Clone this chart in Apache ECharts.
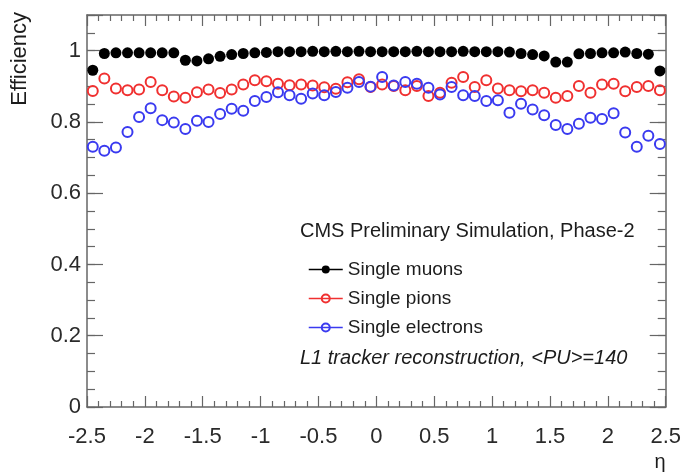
<!DOCTYPE html>
<html><head><meta charset="utf-8">
<script src="https://cdn.jsdelivr.net/npm/echarts@6/dist/echarts.min.js"></script>
<style>html,body{margin:0;padding:0;background:#fff}#c{width:684px;height:472px}</style>
</head><body><div id="c"></div>
<script>
const etaBins = [-2.45,-2.35,-2.25,-2.15,-2.05,-1.95,-1.85,-1.75,-1.65,-1.55,-1.45,-1.35,-1.25,-1.15,-1.05,-0.95,-0.85,-0.75,-0.65,-0.55,-0.45,-0.35,-0.25,-0.15,-0.05,
  0.05,0.15,0.25,0.35,0.45,0.55,0.65,0.75,0.85,0.95,1.05,1.15,1.25,1.35,1.45,1.55,1.65,1.75,1.85,1.95,2.05,2.15,2.25,2.35,2.45];
const muons = [0.945,0.992,0.994,0.994,0.994,0.994,0.994,0.994,0.973,0.971,0.977,0.984,0.989,0.992,0.994,0.995,0.997,0.997,0.997,0.998,0.997,0.998,0.997,0.998,0.997,
  0.997,0.997,0.997,0.998,0.997,0.997,0.997,0.998,0.997,0.997,0.997,0.996,0.992,0.989,0.985,0.968,0.968,0.991,0.992,0.994,0.994,0.996,0.992,0.990,0.943];
const pions = [0.887,0.922,0.894,0.889,0.891,0.912,0.889,0.871,0.868,0.883,0.891,0.881,0.891,0.905,0.917,0.914,0.907,0.903,0.905,0.902,0.897,0.893,0.911,0.920,0.898,
  0.905,0.901,0.889,0.901,0.873,0.882,0.910,0.926,0.898,0.917,0.894,0.889,0.886,0.889,0.882,0.868,0.873,0.901,0.882,0.905,0.907,0.886,0.898,0.901,0.889];
const electrons = [0.730,0.719,0.728,0.772,0.814,0.838,0.805,0.798,0.780,0.803,0.800,0.822,0.837,0.831,0.859,0.870,0.883,0.875,0.865,0.880,0.875,0.884,0.896,0.912,0.899,
  0.926,0.902,0.912,0.907,0.896,0.877,0.898,0.875,0.873,0.859,0.861,0.826,0.851,0.835,0.819,0.791,0.780,0.795,0.812,0.808,0.824,0.770,0.730,0.761,0.738];
const xTickValues = [-2.5,-2,-1.5,-1,-0.5,0,0.5,1,1.5,2,2.5];
const xTickLabels = ['-2.5','-2','-1.5','-1','-0.5','0','0.5','1','1.5','2','2.5'];
const yTickValues = [0,0.2,0.4,0.6,0.8,1.0];
const yTickLabels = ['0','0.2','0.4','0.6','0.8','1'];
const seriesNames = ['Single muons','Single pions','Single electrons'];

const FONT = '"Liberation Sans", Arial, Helvetica, sans-serif';
const AX = '#666';
const TXT = '#1c1c1c';
function lab(vals, labels){ return v => { const i = vals.findIndex(t => Math.abs(t - v) < 1e-6); return i < 0 ? '' : labels[i]; }; }

function xAx(pos, showLabel){
  return {type:'value', min:-2.5, max:2.5, interval:0.5, position:pos,
    axisLine:{show:true, onZero:false, lineStyle:{color:AX, width:1.5}},
    axisTick:{show:true, inside:true, length:11, lineStyle:{color:AX, width:1.2}},
    minorTick:{show:true, splitNumber:5, length:6, lineStyle:{color:AX, width:1.2}},
    splitLine:{show:false}, minorSplitLine:{show:false},
    axisLabel:{show:showLabel, margin:19, fontSize:22, color:'#2a2a2a', fontFamily:FONT, formatter: lab(xTickValues, xTickLabels)}};
}
function yAx(pos, major, showLabel){
  return {type:'value', min:0, max:1.1, interval: major ? 0.2 : 0.05, position:pos,
    axisLine:{show:major, onZero:false, lineStyle:{color:AX, width:1.5}},
    axisTick:{show:true, inside:true, length: major ? 16 : 8, lineStyle:{color:AX, width:1.2}},
    splitLine:{show:false},
    axisLabel:{show:showLabel, margin:6, fontSize:22, color:'#2a2a2a', fontFamily:FONT, formatter: lab(yTickValues, yTickLabels)}};
}

const chart = echarts.init(document.getElementById('c'), null, {renderer:'canvas'});
const mk = (name, vals, sym) => Object.assign({
  name, type:'line', xAxisIndex:0, yAxisIndex:0,
  data: etaBins.map((x, i) => [x, vals[i]]),
  symbol:'circle', showSymbol:true, lineStyle:{opacity:0},
  emphasis:{disabled:true}, silent:true, z:3
}, sym);
chart.setOption({
  animation:false,
  backgroundColor:'#fff',
  grid:{left:87, right:16, top:15, bottom:65, containLabel:false},
  xAxis:[xAx('bottom', true), xAx('top', false)],
  yAxis:[yAx('left', true, true), yAx('left', false, false), yAx('right', true, false), yAx('right', false, false)],
  legend:{orient:'vertical', left:303, top:254, itemWidth:34, itemHeight:10, itemGap:8,
    textStyle:{fontSize:19, fontFamily:FONT, color:TXT, lineHeight:21},
    selectedMode:false,
    data:[
      {name:seriesNames[0], lineStyle:{color:'#000', width:1.5, opacity:1}},
      {name:seriesNames[1], lineStyle:{color:'#f03030', width:1.5, opacity:1}},
      {name:seriesNames[2], lineStyle:{color:'#3a3af0', width:1.5, opacity:1}}
    ]},
  series:[
    mk(seriesNames[0], muons, {symbolSize:11, itemStyle:{color:'#000'}}),
    mk(seriesNames[1], pions, {symbolSize:10, itemStyle:{color:'rgba(255,255,255,0)', borderColor:'#f03030', borderWidth:2}}),
    mk(seriesNames[2], electrons, {symbolSize:10, itemStyle:{color:'rgba(255,255,255,0)', borderColor:'#3a3af0', borderWidth:2}})
  ],
  graphic:[
    {type:'text', x:300, y:231, style:{text:'CMS Preliminary Simulation, Phase-2', font:'20px ' + FONT, fill:TXT, verticalAlign:'middle', align:'left'}},
    {type:'text', x:300, y:358, style:{text:'L1 tracker reconstruction, <PU>=140', font:'italic 20px ' + FONT, fill:TXT, verticalAlign:'middle', align:'left'}},
    {type:'text', x:20, y:12, rotation:Math.PI/2, style:{text:'Efficiency', font:'22px ' + FONT, fill:TXT, verticalAlign:'middle', align:'right'}},
    {type:'text', x:660, y:462, style:{text:'η', font:'20px ' + FONT, fill:TXT, verticalAlign:'middle', align:'center'}}
  ]
});
</script></body></html>
